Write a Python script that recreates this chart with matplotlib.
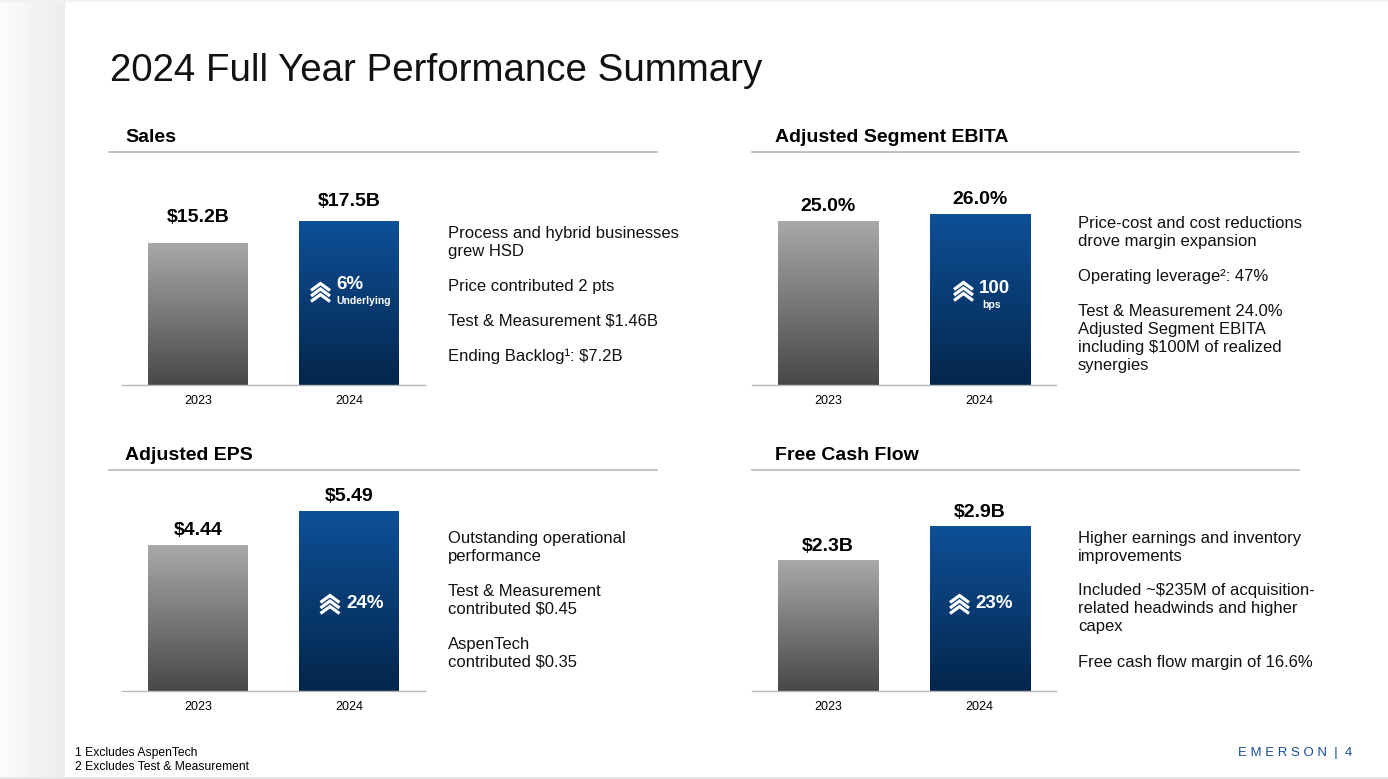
import numpy as np
import matplotlib.pyplot as plt
from matplotlib.colors import LinearSegmentedColormap

plt.rcParams['font.family'] = ['Liberation Sans', 'DejaVu Sans']

W, H = 1388, 779

years = ['2023', '2024']

sales = [15.2, 17.5]
sales_labels = ['$15.2B', '$17.5B']
ebita = [25.0, 26.0]
ebita_labels = ['25.0%', '26.0%']
eps = [4.44, 5.49]
eps_labels = ['$4.44', '$5.49']
fcf = [2.3, 2.9]
fcf_labels = ['$2.3B', '$2.9B']

growth = ['6%', '100', '24%', '23%']
growth_sub = ['Underlying', 'bps', '', '']

sales_notes = [['Process and hybrid businesses', 'grew HSD'],
               ['Price contributed 2 pts'],
               ['Test & Measurement $1.46B'],
               ['Ending Backlog\u00b9: $7.2B']]
ebita_notes = [['Price-cost and cost reductions', 'drove margin expansion'],
               ['Operating leverage\u00b2: 47%'],
               ['Test & Measurement 24.0%', 'Adjusted Segment EBITA',
                'including $100M of realized', 'synergies']]
eps_notes = [['Outstanding operational', 'performance'],
             ['Test & Measurement', 'contributed $0.45'],
             ['AspenTech', 'contributed $0.35']]
fcf_notes = [['Higher earnings and inventory', 'improvements'],
             ['Included ~$235M of acquisition-', 'related headwinds and higher', 'capex'],
             ['Free cash flow margin of 16.6%']]

GRAY = ('#a9a9ab', '#48484a')
BLUE = ('#0e5098', '#04264c')


def rect(x0, y0, x1, y1):
    return [x0 / W, 1 - y1 / H, (x1 - x0) / W, (y1 - y0) / H]


fig = plt.figure(figsize=(W / 100, H / 100), dpi=100)

# background / decoration layer in pixel coordinates
bg = fig.add_axes([0, 0, 1, 1], zorder=0)
strip = np.linspace(0.985, 0.925, 65).reshape(1, -1)
bg.imshow(strip, cmap='gray', vmin=0, vmax=1, aspect='auto', extent=[0, 65, H, 0])
bg.set_xlim(0, W)
bg.set_ylim(H, 0)
bg.axis('off')
bg.axhline(777.5, color='#e6e6e6', lw=2)
bg.axhline(1, color='#f2f2f2', lw=1.5)

bg.text(110, 71, '2024 Full Year Performance Summary', fontsize=27.7, va='center', color='#111111')
bg.text(75, 753, '1 Excludes AspenTech', fontsize=8.7, va='center')
bg.text(75, 767, '2 Excludes Test & Measurement', fontsize=8.7, va='center')
bg.text(1352, 753, 'E M E R S O N  |  4', fontsize=9.5, va='center', ha='right', color='#1a4f96')

top = fig.add_axes([0, 0, 1, 1], zorder=5)
top.set_xlim(0, W)
top.set_ylim(H, 0)
top.axis('off')

panels = [
    dict(title='Sales', hx=125, hy=137, line=(109, 657, 152), box=(122, 170, 425, 385), ymax=23.0,
         vals=sales, labels=sales_labels, notes=sales_notes, nx=448, ny=233, lab_off=(12, 8),
         chev=(-28.5, 292), txt=(-13, 284), sub=(-13, 301)),
    dict(title='Adjusted Segment EBITA', hx=775, hy=137, line=(752, 1299, 152), box=(752, 170, 1056, 385), ymax=32.7,
         vals=ebita, labels=ebita_labels, notes=ebita_notes, nx=1078, ny=223, lab_off=(4, 4),
         chev=(-16, 291), txt=(-1, 288), sub=(3, 305)),
    dict(title='Adjusted EPS', hx=125, hy=455, line=(109, 657, 470), box=(122, 476, 425, 691), ymax=6.54,
         vals=eps, labels=eps_labels, notes=eps_notes, nx=448, ny=538, lab_off=(4, 4),
         chev=(-19, 604), txt=(-3, 604), sub=(-3, 620)),
    dict(title='Free Cash Flow', hx=775, hy=455, line=(752, 1299, 470), box=(752, 476, 1056, 691), ymax=3.785,
         vals=fcf, labels=fcf_labels, notes=fcf_notes, nx=1078, ny=538, lab_off=(4, 4),
         chev=(-20, 604), txt=(-4, 604), sub=(-4, 620)),
]

for i, p in enumerate(panels):
    bg.text(p['hx'], p['hy'], p['title'], fontsize=14, fontweight='bold', va='center')
    x0, x1, ly = p['line']
    bg.plot([x0, x1], [ly, ly], color='#b8b8b8', lw=1.2)

    ax = fig.add_axes(rect(*p['box']), zorder=2)
    ax.patch.set_alpha(0)
    for j, v in enumerate(p['vals']):
        c_top, c_bot = GRAY if j == 0 else BLUE
        cmap = LinearSegmentedColormap.from_list('g%d%d' % (i, j), [c_bot, c_top])
        b = ax.bar(j, v, width=0.66, color='none', edgecolor='none', zorder=2)[0]
        grad = np.linspace(0, 1, 256).reshape(-1, 1)
        im = ax.imshow(grad, cmap=cmap, aspect='auto', origin='lower',
                       extent=[j - 0.33, j + 0.33, 0, v], zorder=2)
        im.set_clip_path(b)
        ax.annotate(p['labels'][j], (j, v), xytext=(0, p['lab_off'][j]), textcoords='offset points',
                    ha='center', va='bottom', fontsize=14, fontweight='bold')
    ax.set_xlim(-0.503, 1.503)
    ax.set_ylim(0, p['ymax'])
    ax.set_xticks([0, 1])
    ax.set_xticklabels(years, fontsize=9)
    ax.set_yticks([])
    ax.tick_params(axis='x', length=0, pad=7.5)
    for s in ['top', 'right', 'left']:
        ax.spines[s].set_visible(False)
    ax.spines['bottom'].set_color('#b8b8b8')
    ax.spines['bottom'].set_linewidth(1.0)

    # growth badge on the 2024 bar
    bx = (p['box'][0] + p['box'][2]) / 2 + 75.5
    cdx, cy = p['chev']
    cx = bx + cdx
    for k in range(3):
        t = cy - 8.5 + 5.5 * k
        top.plot([cx - 9.5, cx, cx + 9.5], [t + 7, t, t + 7], color='white', lw=2.3,
                 solid_joinstyle='miter', solid_capstyle='butt')
    top.text(bx + p['txt'][0], p['txt'][1], growth[i], color='white', fontsize=13.5,
             fontweight='bold', ha='left', va='center')
    if growth_sub[i]:
        top.text(bx + p['sub'][0], p['sub'][1], growth_sub[i], color='white', fontsize=7.5,
                 fontweight='bold', ha='left', va='center')

    y = p['ny']
    for para in p['notes']:
        for line in para:
            bg.text(p['nx'], y, line, fontsize=12, va='center', color='#111111')
            y += 18
        y += 17

fig.savefig('out.png', dpi=100)
